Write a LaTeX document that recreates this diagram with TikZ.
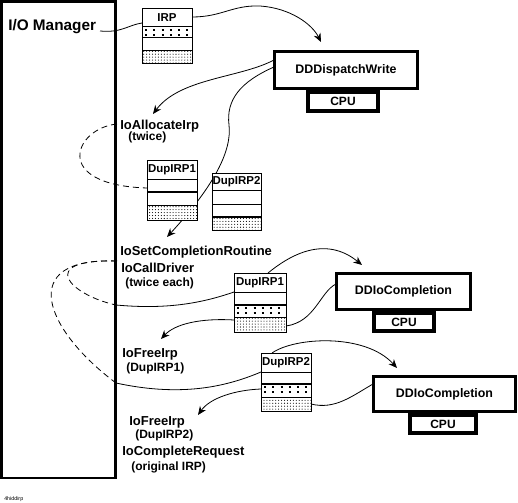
\documentclass[tikz,border=0pt]{standalone}
\usepackage{fontspec}
\setmainfont{Liberation Sans}
\usetikzlibrary{arrows.meta,patterns.meta}
\tikzset{
  conn/.style={line width=0.6pt},
  arr/.style={conn,-{Stealth[length=6.5pt,width=5.5pt]}},
  hidden/.style={conn,dash pattern=on 4.5pt off 3pt},
  rowline/.style={line width=0.75pt},
  thickrow/.style={line width=1.6pt},
  dense/.style={pattern={Dots[distance=2.2pt,radius=0.42pt]}},
  sparse/.style={line width=0.8pt,dash pattern=on 1.5pt off 4.7pt},
  boxtitle/.style={font=\fontsize{8.6}{9}\selectfont\bfseries,inner sep=0pt},
  lbl/.style={font=\fontsize{9.75}{11}\selectfont\bfseries,inner sep=0pt,anchor=base west},
  sublbl/.style={font=\fontsize{9}{10}\selectfont\bfseries,inner sep=0pt,anchor=base west},
  proc/.style={draw,fill=white,line width=2.2pt,inner sep=0pt,font=\fontsize{9.3}{10}\selectfont\bfseries},
  cpu/.style={draw,fill=white,line width=2.8pt,inner sep=0pt,font=\fontsize{9}{10}\selectfont\bfseries},
}
\newcommand\irpbox[7]{%
  \fill[white] (#1,#3) rectangle (#2,#7);
  \path[dense] (#1,#6) rectangle (#2,#7);
  \draw[rowline] (#1,#4) -- (#2,#4) (#1,#5) -- (#2,#5) (#1,#6) -- (#2,#6);
  \draw[rowline] (#1,#3) rectangle (#2,#7);}
\newcommand\sparserow[3]{%
  \draw[sparse] (#1+3,#3+3) -- (#2,#3+3);
  \draw[sparse] (#1+3,#3+8) -- (#2,#3+8);}
\begin{document}
\begin{tikzpicture}[x=0.75pt,y=-0.75pt]
\useasboundingbox (0,0) rectangle (518,503);
% I/O Manager frame
\node[draw,line width=2.2pt,minimum width=85.5pt,minimum height=357.4pt,inner sep=0pt] (io) at (58.5,239.75) {};
\node[font=\fontsize{11.5}{12}\selectfont\bfseries,inner sep=0pt,anchor=base west] (iomgr) at (8,31) {I/O Manager};

% labels
\node[lbl] (alloc) at (120,129) {IoAllocateIrp};
\node[sublbl] (twice) at (128,141) {(twice)};
\node[lbl] (setcr) at (120,255.5) {IoSetCompletionRoutine};
\node[lbl] (calld) at (121,272) {IoCallDriver};
\node[sublbl] (twiceeach) at (125,286) {(twice each)};
\node[lbl] (free1) at (122,357) {IoFreeIrp};
\node[sublbl] (dup1lab) at (126,371) {(DupIRP1)};
\node[lbl] (free2) at (129,425) {IoFreeIrp};
\node[sublbl] (dup2lab) at (135,438) {(DupIRP2)};
\node[lbl] (compl) at (122,455) {IoCompleteRequest};
\node[sublbl] (orig) at (131,470) {(original IRP)};
\node[font=\fontsize{4}{4}\selectfont,inner sep=0pt,anchor=base west] (fig) at (4,500) {4hiddirp};

% connection points
\coordinate (iomgr-out) at (100,31);
\coordinate (irp-in) at (142,23);
\coordinate (irp-out) at (192,17);
\coordinate (ddd-tip) at (321,42);
\coordinate (ddd-outA) at (274,60);
\coordinate (alloc-tip) at (153,114);
\coordinate (ddd-outB) at (274,67);
\coordinate (setcr-tip) at (167,237);
\coordinate (alloc-out) at (117,124);
\coordinate (dup1a-in) at (147,188);
\coordinate (setcr-out) at (117,261);
\coordinate (edgeA) at (116,305);
\coordinate (edgeB) at (116,383);
\coordinate (dup1b-in) at (234,292);
\coordinate (dup2b-in) at (261,372);
\coordinate (dup1b-top) at (268,273);
\coordinate (ddio1-tip) at (362,265);
\coordinate (dup1b-out) at (286,326);
\coordinate (ddio1-in) at (336,284);
\coordinate (dup1b-left) at (234,320);
\coordinate (free1-tip) at (161,339);
\coordinate (dup2b-top) at (272,353);
\coordinate (ddio2-tip) at (397,368);
\coordinate (dup2b-out) at (311,404);
\coordinate (ddio2-in) at (373,384);
\coordinate (dup2b-left) at (261,389);
\coordinate (free2-tip) at (198,415);

% connectors
\draw[conn] (iomgr-out) .. controls (122,33) and (128,25) .. (irp-in);
\draw[arr] (irp-out) .. controls (222,17) and (232,5) .. (260,6) .. controls (290,8) and (312,24) .. (ddd-tip);
\draw[arr] (ddd-outA) .. controls (240,78) and (180,78) .. (alloc-tip);
\draw[arr] (ddd-outB) .. controls (240,82) and (226,100) .. (229,125) .. controls (232,150) and (215,185) .. (setcr-tip);
\draw[hidden] (alloc-out) .. controls (75,128) and (50,185) .. (dup1a-in);
\draw[hidden] (setcr-out) .. controls (35,259) and (70,295) .. (edgeA);
\draw[hidden] (setcr-out) .. controls (15,257) and (45,330) .. (edgeB);
\draw[conn] (edgeA) .. controls (170,310) and (205,302) .. (dup1b-in);
\draw[conn] (edgeB) .. controls (185,398) and (230,385) .. (dup2b-in);
\draw[arr] (dup1b-top) .. controls (290,255) and (325,235) .. (ddio1-tip);
\draw[conn] (dup1b-out) .. controls (315,322) and (320,292) .. (ddio1-in);
\draw[arr] (dup1b-left) .. controls (200,318) and (175,324) .. (free1-tip);
\draw[arr] (dup2b-top) .. controls (295,337) and (365,333) .. (ddio2-tip);
\draw[conn] (dup2b-out) .. controls (335,410) and (352,396) .. (ddio2-in);
\draw[arr] (dup2b-left) .. controls (235,390) and (210,398) .. (free2-tip);

% IRP boxes
\irpbox{142}{192}{9}{27}{38}{51}{64}
\sparserow{142}{192}{27}
\node[boxtitle] (irp) at (167,18) {IRP};

\irpbox{147}{197}{160}{179}{192}{205}{220}
\draw[thickrow] (147,192) -- (197,192);
\node[boxtitle] (dup1a) at (172,169.5) {DupIRP1};

\irpbox{212}{261}{173}{190}{204}{217}{230}
\draw[thickrow] (212,217) -- (261,217);
\node[boxtitle] (dup2a) at (236.5,181.5) {DupIRP2};

\irpbox{234}{286}{273}{292}{305}{317}{332}
\draw[thickrow] (234,305) -- (286,305);
\sparserow{234}{286}{305}
\node[boxtitle] (dup1b) at (260,282.5) {DupIRP1};

\irpbox{261}{311}{353}{372}{384}{397}{411}
\draw[thickrow] (261,384) -- (311,384);
\sparserow{261}{311}{384}
\node[boxtitle] (dup2b) at (286,362.5) {DupIRP2};

% driver routines
\node[cpu,minimum width=52.6pt,minimum height=14.4pt] (cpu1) at (343,101.5) {CPU};
\node[proc,minimum width=107.25pt,minimum height=27.75pt] (ddd) at (346,70) {DDDispatchWrite};
\node[cpu,minimum width=45.2pt,minimum height=13.7pt] (cpu2) at (404,322) {CPU};
\node[proc,minimum width=100.5pt,minimum height=27pt] (ddio1) at (403.5,291.5) {DDIoCompletion};
\node[cpu,minimum width=49.7pt,minimum height=13.7pt] (cpu3) at (443,424) {CPU};
\node[proc,minimum width=106.5pt,minimum height=26.25pt] (ddio2) at (444.5,394) {DDIoCompletion};
\end{tikzpicture}
\end{document}
